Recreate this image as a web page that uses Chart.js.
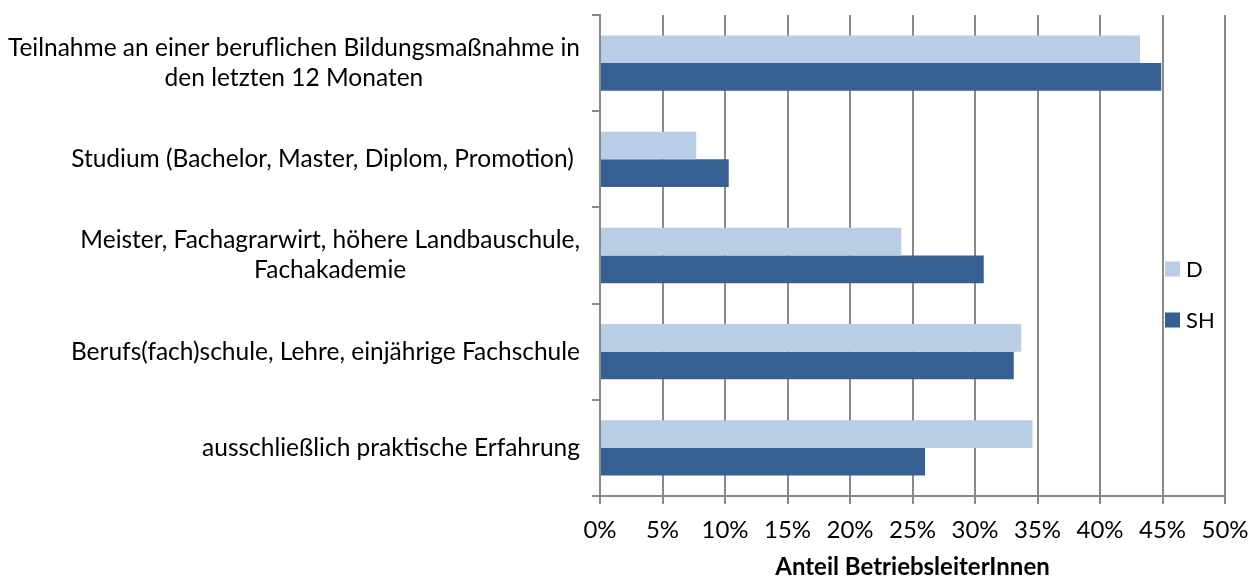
<!DOCTYPE html>
<html>
<head>
<meta charset="utf-8">
<script src="https://cdn.jsdelivr.net/npm/chart.js@4.4.1/dist/chart.umd.min.js"></script>
<style>
  html, body { margin: 0; padding: 0; background: #fff; }
  #wrap { width: 1255px; height: 577px; }
</style>
</head>
<body>
<div id="wrap"><canvas id="c" width="1255" height="577"></canvas></div>
<script>
const categories = [
  ["Teilnahme an einer beruflichen Bildungsmaßnahme in", "den letzten 12 Monaten"],
  ["Studium (Bachelor, Master, Diplom, Promotion) "],
  ["Meister, Fachagrarwirt, höhere Landbauschule,", "Fachakademie"],
  ["Berufs(fach)schule, Lehre, einjährige Fachschule"],
  ["ausschließlich praktische Erfahrung"]
];
const seriesNames = ["D", "SH"];
const valuesD  = [43.2, 7.7, 24.1, 33.7, 34.6];
const valuesSH = [44.9, 10.3, 30.7, 33.1, 26.0];
const xTicks = [0, 5, 10, 15, 20, 25, 30, 35, 40, 45, 50];
const axisTitle = "Anteil BetriebsleiterInnen";

const FONT = "Lato, 'Open Sans', sans-serif";
const FS = 24;
const colors = ["#B9CDE5", "#376092"];
const gridColor = "#898989";

const yLabelPlugin = {
  id: 'yLabels',
  afterDraw(chart) {
    const ctx = chart.ctx;
    const ys = chart.scales.y;
    ctx.save();
    ctx.font = "24.5px " + FONT;
    ctx.fillStyle = "#000";
    ctx.textBaseline = "middle";
    ctx.textAlign = "center";
    const right = ys.right - 20;
    const lh = 30;
    categories.forEach((lines, i) => {
      const yc = ys.getPixelForValue(i);
      const w = Math.max(...lines.map(l => ctx.measureText(l).width));
      const xc = right - w / 2;
      const y0 = yc - (lines.length - 1) * lh / 2;
      lines.forEach((l, j) => ctx.fillText(l, xc, y0 + j * lh));
    });
    ctx.restore();
  }
};

const legendPlugin = {
  id: 'customLegend',
  afterDraw(chart) {
    const ctx = chart.ctx;
    ctx.save();
    ctx.font = "22px " + FONT;
    ctx.textBaseline = "middle";
    ctx.textAlign = "left";
    const x0 = 1165, ys = [269, 320], s = 15;
    seriesNames.forEach((n, i) => {
      ctx.fillStyle = colors[i];
      ctx.fillRect(x0, ys[i] - s / 2, s, s);
      ctx.fillStyle = "#000";
      ctx.fillText(n, x0 + s + 6, ys[i] + 1);
    });
    ctx.restore();
  }
};

new Chart(document.getElementById('c'), {
  type: 'bar',
  data: {
    labels: categories,
    datasets: [
      { label: seriesNames[0], data: valuesD, backgroundColor: colors[0] },
      { label: seriesNames[1], data: valuesSH, backgroundColor: colors[1] }
    ]
  },
  options: {
    indexAxis: 'y',
    responsive: false,
    animation: false,
    devicePixelRatio: 1,
    categoryPercentage: 0.575,
    barPercentage: 1.0,
    layout: { padding: { top: 15, right: 0, left: 0, bottom: 0 } },
    plugins: { legend: { display: false }, tooltip: { enabled: false } },
    scales: {
      x: {
        min: 0, max: 50,
        afterBuildTicks(scale) { scale.ticks = xTicks.map(v => ({ value: v })); },
        afterFit(scale) { scale.paddingRight = 30; scale.paddingLeft = 0; },
        ticks: {
          callback: v => v + '%',
          color: '#000',
          font: { family: FONT, size: FS, lineHeight: 1.2 },
          padding: 11.6,
          maxRotation: 0
        },
        grid: { color: gridColor, lineWidth: 2, tickLength: 8 },
        border: { color: gridColor, width: 2 },
        title: {
          display: true,
          text: axisTitle,
          color: '#000',
          font: { family: FONT, size: FS, weight: 'bold', lineHeight: 1 },
          padding: { top: -1, bottom: -2 }
        }
      },
      y: {
        afterFit(scale) { scale.width = 600; },
        ticks: { color: 'rgba(0,0,0,0)', font: { family: FONT, size: 12 } },
        grid: { drawOnChartArea: false, color: gridColor, lineWidth: 2, tickLength: 8, offset: true },
        border: { color: gridColor, width: 2 }
      }
    }
  },
  plugins: [yLabelPlugin, legendPlugin]
});
</script>
</body>
</html>
